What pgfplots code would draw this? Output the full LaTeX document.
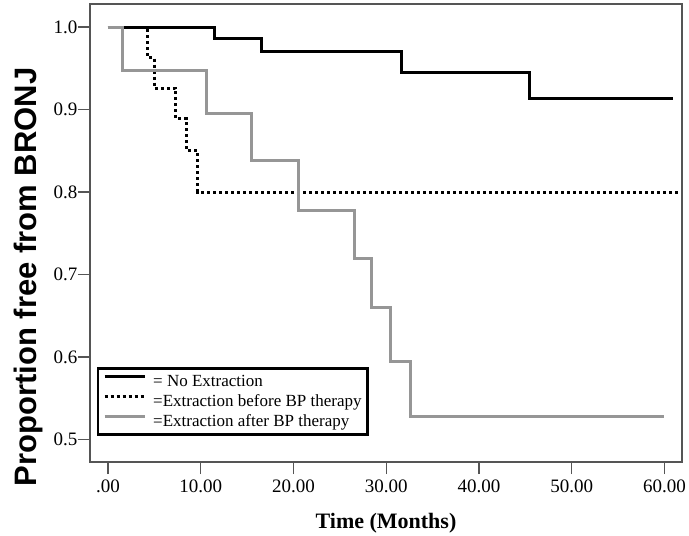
\documentclass[border=0pt]{standalone}
\usepackage{fontspec}
\setmainfont{Liberation Serif}
\newfontfamily\arial{Liberation Sans}
\usepackage{pgfplots}
\pgfplotsset{compat=1.18}
\definecolor{framegray}{RGB}{85,85,85}
\definecolor{curvegray}{RGB}{150,150,150}
\begin{document}
\begin{tikzpicture}
\begin{axis}[
  scale only axis, width=592bp, height=458bp,
  xmin=-1.94, xmax=61.9, ymin=0.4727, ymax=1.028,
  axis line style={framegray, line width=1.3bp},
  tick pos=left, tick align=outside,
  major tick length=12bp,
  tick style={framegray, line width=1.3bp},
  xtick={0,10,20,30,40,50,60},
  xticklabels={.00,10.00,20.00,30.00,40.00,50.00,60.00},
  ytick={0.5,0.6,0.7,0.8,0.9,1.0},
  yticklabels={0.5,0.6,0.7,0.8,0.9,1.0},
  ticklabel style={font=\fontsize{19bp}{22bp}\selectfont},
  yticklabel style={xshift=3bp},
  xticklabel style={yshift=-2bp},
  /pgf/number format/assume math mode=true,
  xlabel={Time (Months)},
  xlabel style={font=\fontsize{22bp}{26bp}\selectfont\bfseries, at={(axis description cs:0.5,-0.1441)}, anchor=base},
  ylabel={Proportion free from BRONJ},
  ylabel style={font=\arial\fontsize{31bp}{36bp}\selectfont\bfseries, at={(axis description cs:-0.0912,0.404)}, anchor=base},
  legend style={at={(axis description cs:0.0118,0.0568)}, anchor=south west, draw=black, line width=2.5bp, fill=white,
    font=\fontsize{17bp}{20bp}\selectfont, inner xsep=5bp, inner ysep=3bp,
    nodes={inner sep=1bp, text height=14bp, text depth=4bp},
    /tikz/every odd column/.append style={column sep=6bp}},
  legend cell align=left,
  legend image code/.code={\draw[#1] (0bp,5bp) -- (40bp,5bp);},
]
\addplot[const plot, black, line width=3bp] coordinates {
(0,1.0) (11.5,0.986) (16.6,0.970) (31.6,0.945) (45.5,0.913) (60.9,0.913)};
\addlegendentry{= No Extraction}
\addplot[const plot, black, line width=3bp, dash pattern=on 3bp off 3bp] coordinates {
(0,1.0) (4.3,0.963) (5.0,0.926) (7.3,0.889) (8.5,0.850) (9.7,0.800) (61.7,0.800)};
\addlegendentry{=Extraction before BP therapy}
\addplot[const plot, curvegray, line width=3bp] coordinates {
(0,1.0) (1.6,0.947) (10.6,0.895) (15.5,0.838) (20.5,0.778) (26.6,0.720) (28.4,0.660) (30.5,0.594) (32.6,0.528) (60.0,0.528)};
\addlegendentry{=Extraction after BP therapy}
\end{axis}
\pgfresetboundingbox
\path[use as bounding box] ([xshift=-90bp,yshift=-74bp]current axis.south west) rectangle ([xshift=7bp,yshift=4bp]current axis.north east);
\end{tikzpicture}
\end{document}
